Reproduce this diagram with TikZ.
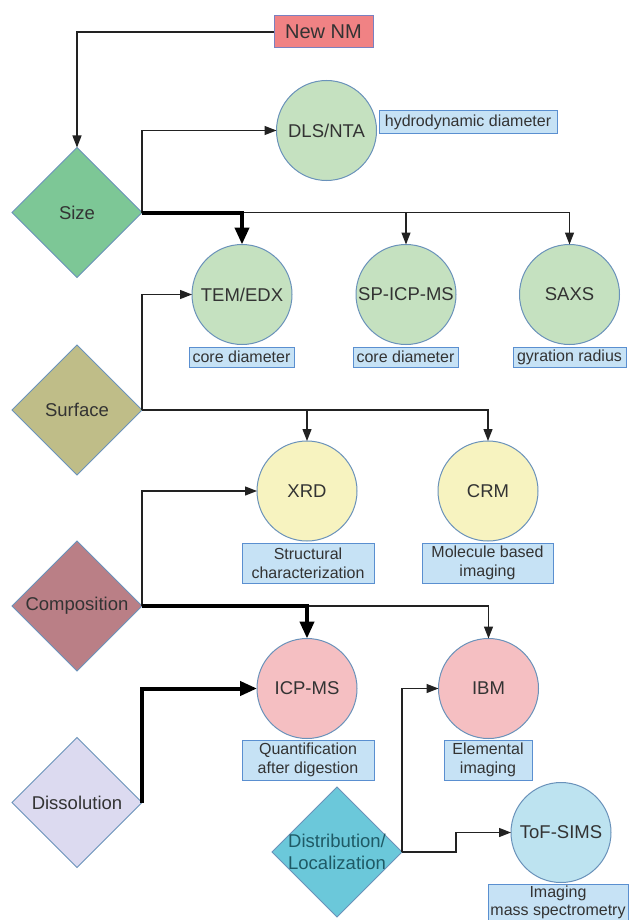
\documentclass[tikz,border=0pt]{standalone}
\usepackage{fontspec}
\setmainfont{Liberation Sans}
\usetikzlibrary{shapes.geometric,arrows.meta}
\definecolor{txt}{HTML}{333333}
\definecolor{shapeborder}{HTML}{6A92BA}
\definecolor{labfill}{HTML}{C6E2F5}
\definecolor{labborder}{HTML}{5A8FD0}
\definecolor{linec}{HTML}{222222}
\definecolor{newnmfill}{HTML}{F08284}
\definecolor{newnmborder}{HTML}{7A80C0}
\definecolor{sizefill}{HTML}{7DC796}
\definecolor{surffill}{HTML}{BFBD88}
\definecolor{compfill}{HTML}{BA7F86}
\definecolor{dissfill}{HTML}{DCDAF0}
\definecolor{distfill}{HTML}{6BC8DA}
\definecolor{disttext}{HTML}{1F5A66}
\definecolor{greenc}{HTML}{C5E1C0}
\definecolor{yellowc}{HTML}{F7F3C0}
\definecolor{pinkc}{HTML}{F5BFC2}
\definecolor{bluec}{HTML}{BDE3F0}
\begin{document}
\begin{tikzpicture}[x=1pt,y=-1pt,
  every node/.style={outer sep=0pt},
  dia/.style={diamond, draw=shapeborder, line width=1pt, minimum width=130pt, minimum height=130pt, inner sep=-3pt, align=center, font=\fontsize{18.5}{22}\selectfont, text=txt},
  circ/.style={circle, draw=shapeborder, line width=1pt, minimum size=100pt, inner sep=0pt, font=\fontsize{18.5}{22}\selectfont, text=txt},
  lab/.style={rectangle, draw=labborder, fill=labfill, line width=1pt, inner sep=0pt, align=center, font=\fontsize{16}{19}\selectfont, text=txt},
  conn/.style={draw=linec, line width=1.3pt, -{Triangle[length=12pt,width=9pt]}},
  thickconn/.style={draw=black, line width=4pt, -{Triangle[length=17pt,width=14pt]}},
]
\useasboundingbox[fill=white] (0,0) rectangle (631,920);

% start
\node[rectangle, draw=newnmborder, fill=newnmfill, line width=1pt, minimum width=99pt, minimum height=32pt, inner sep=0pt, font=\fontsize{20}{24}\selectfont, text=txt] (newnm) at (323.5,32) {New NM};

% diamonds
\node[dia, fill=sizefill] (size) at (77,212.5) {Size};
\node[dia, fill=surffill] (surf) at (77,410) {Surface};
\node[dia, fill=compfill] (comp) at (77,606) {Composition};
\node[dia, fill=dissfill] (diss) at (77,802.5) {Dissolution};
\node[dia, fill=distfill, text=disttext] (dist) at (337,852) {Distribution/\\Localization};

% circles
\node[circ, fill=greenc] (dls) at (326.5,130.5) {DLS/NTA};
\node[circ, fill=greenc] (tem) at (242,294.5) {TEM/EDX};
\node[circ, fill=greenc] (sp) at (406,294.5) {SP-ICP-MS};
\node[circ, fill=greenc] (saxs) at (569.5,294.5) {SAXS};
\node[circ, fill=yellowc] (xrd) at (307,491) {XRD};
\node[circ, fill=yellowc] (crm) at (488,491) {CRM};
\node[circ, fill=pinkc] (icp) at (307,688.5) {ICP-MS};
\node[circ, fill=pinkc] (ibm) at (488.5,688.5) {IBM};
\node[circ, fill=bluec] (tof) at (561,832.5) {ToF-SIMS};

% labels
\node[lab, minimum width=178pt, minimum height=23pt] (lhyd) at (468,122.5) {hydrodynamic diameter};
\node[lab, minimum width=105pt, minimum height=20pt] (lcore1) at (241.5,357) {core diameter};
\node[lab, minimum width=105pt, minimum height=20pt] (lcore2) at (405.5,357) {core diameter};
\node[lab, minimum width=113pt, minimum height=20pt] (lgyr) at (569.5,357) {gyration radius};
\node[lab, minimum width=132pt, minimum height=40pt] (lstruct) at (308,563) {Structural\\characterization};
\node[lab, minimum width=131pt, minimum height=40pt] (lmol) at (487.5,563) {Molecule based\\imaging};
\node[lab, minimum width=132pt, minimum height=40pt] (lquant) at (308,760) {Quantification\\after digestion};
\node[lab, minimum width=88pt, minimum height=40pt] (lelem) at (488,760) {Elemental\\imaging};
\node[lab, minimum width=140pt, minimum height=36pt, anchor=north, font=\fontsize{16}{17.5}\selectfont] (limg) at (558,884.5) {Imaging\\mass spectrometry};

% connectors
\draw[conn] (newnm.west) -| (size.north);
\draw[conn] (size.east) |- (dls.west);
\coordinate (j1) at (242,212.5);
\draw[conn] (j1) -| (sp.north);
\draw[conn] (j1) -| (saxs.north);
\draw[thickconn] (size.east) -| (tem.north);

\draw[conn] (surf.east) |- (tem.west);
\draw[conn] (surf.east) -| (xrd.north);
\draw[conn] (surf.east) -| (crm.north);

\draw[conn] (comp.east) |- (xrd.west);
\draw[conn] (comp.east) -| (ibm.north);
\draw[thickconn] (comp.east) -| (icp.north);

\draw[thickconn] (diss.east) |- (icp.west);

\draw[conn] (dist.east) |- (ibm.west);
\coordinate (j3) at (456,852);
\draw[conn] (dist.east) -- (j3) |- (tof.west);
\end{tikzpicture}
\end{document}
